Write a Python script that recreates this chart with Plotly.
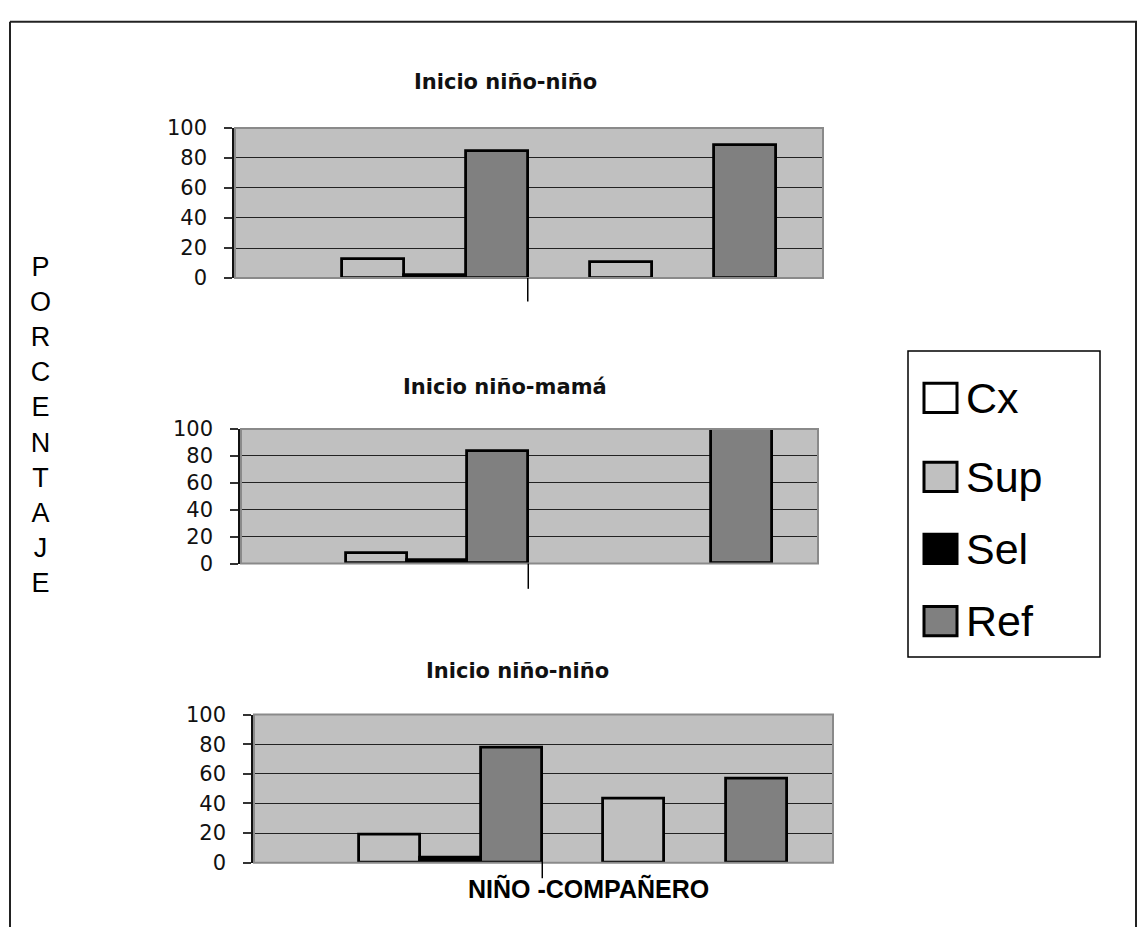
import plotly.graph_objects as go

# ---------------- data ----------------
categories = [0, 1]
series_names = ["Cx", "Sup", "Sel", "Ref"]
series_colors = ["#FFFFFF", "#C0C0C0", "#000000", "#808080"]

titles = ["Inicio niño-niño", "Inicio niño-mamá", "Inicio niño-niño"]

cx_1 = [0, 0]
sup_1 = [12.6, 11]
sel_1 = [2, 0]
ref_1 = [85, 89]

cx_2 = [0, 0]
sup_2 = [8, 0]
sel_2 = [2.5, 0]
ref_2 = [84, 100]

cx_3 = [0, 0]
sup_3 = [19, 43]
sel_3 = [3.5, 0]
ref_3 = [78, 57]

panels = [
    [cx_1, sup_1, sel_1, ref_1],
    [cx_2, sup_2, sel_2, ref_2],
    [cx_3, sup_3, sel_3, ref_3],
]

y_ticks = [0, 20, 40, 60, 80, 100]
x_label = "NIÑO -COMPAÑERO"
y_label = "PORCENTAJE"

# ---------------- layout geometry (pixels of the 1138x939 page) ----------------
W, H = 1138, 939
def px(x):
    return x / W
def py(y):
    return 1 - y / H

plot_boxes = [  # left, right, top, bottom in page pixels
    (235, 823, 119, 273),
    (241, 818, 428, 566),
    (254, 833, 721, 873),
]
title_pos = [(505, 72), (505, 385), (517, 676)]

fig = go.Figure()
layout_axes = {}
shapes = []
annotations = []

for i, (vals, box) in enumerate(zip(panels, plot_boxes)):
    n = "" if i == 0 else str(i + 1)
    for name, color, v in zip(series_names, series_colors, vals):
        fig.add_trace(go.Bar(
            x=categories, y=v, name=name,
            marker=dict(color=color,
                        line=dict(color="#000000",
                                  width=[2.8 if val else 0 for val in v])),
            xaxis="x" + n, yaxis="y" + n, showlegend=False,
        ))
    l, r, t, b = box
    layout_axes["xaxis" + n] = dict(
        domain=[px(l), px(r)], anchor="y" + n, range=[-0.68, 1.69],
        showticklabels=False, showgrid=False, zeroline=False, ticks="",
        showline=False, fixedrange=True,
    )
    layout_axes["yaxis" + n] = dict(
        domain=[py(b), py(t)], anchor="x" + n, range=[0, 100],
        tickvals=y_ticks, ticks="outside", ticklen=8, tickwidth=1.5,
        tickcolor="#333333", showline=True, linecolor="#111111", linewidth=2.5,
        showgrid=True, gridcolor="#222222", gridwidth=1, zeroline=False,
        tickfont=dict(family="DejaVu Sans", size=21, color="#111111"),
        ticklabelstandoff=13, fixedrange=True,
    )
    shapes.append(dict(type="rect", xref="x" + n + " domain", yref="y" + n + " domain",
                       x0=0, x1=1, y0=0, y1=1, line=dict(color="#8A8A8A", width=2),
                       layer="above"))
    mid = (categories[0] + categories[1]) / 2
    tick_top = 0.21 if i == 2 else 0
    tick_bot = [-0.156, -0.188, -0.105][i]
    shapes.append(dict(type="line", xref="x" + n, yref="y" + n + " domain",
                       x0=mid, x1=mid, y0=tick_top, y1=tick_bot,
                       line=dict(color="#000000", width=1.5)))
    tx, ty = title_pos[i]
    annotations.append(dict(text="<b>" + titles[i] + "</b>", x=px(tx), y=py(ty),
                            xref="paper", yref="paper", showarrow=False,
                            xanchor="center", yanchor="middle",
                            font=dict(family="DejaVu Sans", size=21, color="#111111")))

annotations.append(dict(text="<b>" + x_label + "</b>", x=px(588), y=py(900),
                        xref="paper", yref="paper", showarrow=False,
                        xanchor="center", yanchor="middle",
                        font=dict(family="Liberation Sans", size=25, color="#000000")))
annotations.append(dict(text="<br>".join(list(y_label)), x=px(41), y=py(424),
                        xref="paper", yref="paper", showarrow=False,
                        xanchor="center", yanchor="middle", align="center",
                        font=dict(family="Liberation Sans", size=27, color="#000000")))

# legend drawn as a boxed key
shapes.append(dict(type="rect", xref="paper", yref="paper",
                   x0=px(908), x1=px(1100), y0=py(662), y1=py(348),
                   line=dict(color="#000000", width=1.5), fillcolor="#FFFFFF"))
legend_y = [396, 477, 551, 625]
for name, color, yy in zip(series_names, series_colors, legend_y):
    shapes.append(dict(type="rect", xref="paper", yref="paper",
                       x0=px(924), x1=px(957), y0=py(yy + 15), y1=py(yy - 15),
                       line=dict(color="#000000", width=3), fillcolor=color))
    annotations.append(dict(text=name, x=px(964), y=py(yy), xref="paper", yref="paper",
                            showarrow=False, xanchor="left", yanchor="middle",
                            font=dict(family="Liberation Sans", size=43, color="#000000")))

# outer frame
shapes.append(dict(type="line", xref="paper", yref="paper", x0=px(10), x1=px(10),
                   y0=0, y1=py(10), line=dict(color="#222222", width=2)))
shapes.append(dict(type="line", xref="paper", yref="paper", x0=px(10), x1=px(1137),
                   y0=py(10), y1=py(10), line=dict(color="#222222", width=2)))
shapes.append(dict(type="line", xref="paper", yref="paper", x0=px(1136), x1=px(1136),
                   y0=0, y1=py(10), line=dict(color="#222222", width=2)))

fig.update_layout(
    width=W, height=H, margin=dict(l=0, r=0, t=0, b=0),
    paper_bgcolor="#FFFFFF", plot_bgcolor="#C0C0C0",
    barmode="group", bargap=0, bargroupgap=0,
    showlegend=False, shapes=shapes, annotations=annotations,
    **layout_axes,
)

fig.write_html("out.html", config={"displayModeBar": False},
               post_script="document.body.style.margin='0';document.body.style.overflow='hidden';")
